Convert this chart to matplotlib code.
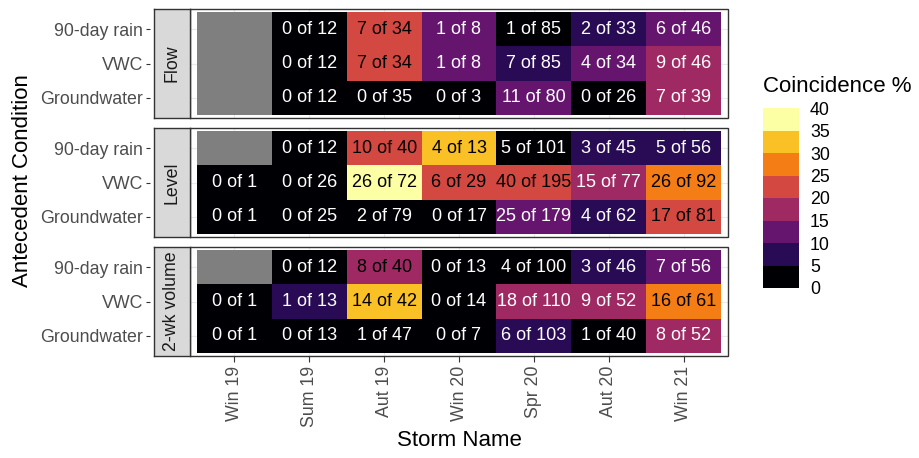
import matplotlib
matplotlib.use("Agg")
import matplotlib.pyplot as plt
import numpy as np
from matplotlib.colors import ListedColormap, BoundaryNorm
from matplotlib.patches import Rectangle
import matplotlib.colorbar as mcolorbar

plt.rcParams['font.family'] = ['Liberation Sans', 'DejaVu Sans']

storms = ["Win 19", "Sum 19", "Aut 19", "Win 20", "Spr 20", "Aut 20", "Win 21"]
conditions = ["90-day rain", "VWC", "Groundwater"]
facets = ["Flow", "Level", "2-wk volume"]

# hits / events per condition row; None = no data
flow_hits = [[None, 0, 7, 1, 1, 2, 6],
             [None, 0, 7, 1, 7, 4, 9],
             [None, 0, 0, 0, 11, 0, 7]]
flow_events = [[None, 12, 34, 8, 85, 33, 46],
               [None, 12, 34, 8, 85, 34, 46],
               [None, 12, 35, 3, 80, 26, 39]]

level_hits = [[None, 0, 10, 4, 5, 3, 5],
              [0, 0, 26, 6, 40, 15, 26],
              [0, 0, 2, 0, 25, 4, 17]]
level_events = [[None, 12, 40, 13, 101, 45, 56],
                [1, 26, 72, 29, 195, 77, 92],
                [1, 25, 79, 17, 179, 62, 81]]

vol_hits = [[None, 0, 8, 0, 4, 3, 7],
            [0, 1, 14, 0, 18, 9, 16],
            [0, 0, 1, 0, 6, 1, 8]]
vol_events = [[None, 12, 40, 13, 100, 46, 56],
              [1, 13, 42, 14, 110, 52, 61],
              [1, 13, 47, 7, 103, 40, 52]]

bin_edges = [0, 5, 10, 15, 20, 25, 30, 35, 40]
inferno8 = ["#000004", "#280B54", "#65156E", "#9F2A63",
            "#D44842", "#F57D15", "#FAC127", "#FCFFA4"]

facet_data = [(flow_hits, flow_events), (level_hits, level_events), (vol_hits, vol_events)]

W, H = 919, 458
fig = plt.figure(figsize=(W / 100, H / 100), dpi=100)

def fx(px):
    return px / W

def fy(px):
    return 1 - px / H

panel_left, panel_right = 190, 728
strip_left = 154
panel_tops = [9, 128, 247]
panel_h = 109
tick_col = "#4D4D4D"
line_col = "#333333"

cmap = ListedColormap(inferno8)

for k, (name, (hits, events)) in enumerate(zip(facets, facet_data)):
    top = panel_tops[k]
    ax = fig.add_axes([fx(panel_left), fy(top + panel_h), fx(panel_right - panel_left), panel_h / H])
    for s in ax.spines.values():
        s.set_visible(False)
    # y ticks sit outside the facet strip, like ggplot
    ax.spines['left'].set_position(('outward', 28.8))
    ax.set_xlim(-0.593, 6.593)
    ax.set_ylim(2.6, -0.6)
    ax.set_xticks(range(len(storms)))
    ax.set_yticks(range(len(conditions)))
    ax.set_yticklabels(conditions)
    ax.grid(True, color="#EBEBEB", linewidth=0.8, zorder=0)
    ax.set_axisbelow(True)
    for i in range(len(conditions)):
        for j in range(len(storms)):
            h, n = hits[i][j], events[i][j]
            if h is None:
                ax.add_patch(Rectangle((j - 0.5, i - 0.5), 1, 1, color="#7F7F7F", lw=0, zorder=1))
                continue
            pct = 100.0 * h / n
            b = max(int(np.ceil(pct / 5.0)) - 1, 0)
            ax.add_patch(Rectangle((j - 0.5, i - 0.5), 1, 1, color=inferno8[b], lw=0, zorder=1))
            ax.text(j, i, f"{h} of {n}", ha="center", va="center", fontsize=13,
                    color="black" if pct >= 20 else "white", zorder=2)
    ax.add_patch(Rectangle((0, 0), 1, 1, transform=ax.transAxes, fill=False,
                           edgecolor=line_col, lw=1.0, clip_on=False, zorder=5))
    ax.tick_params(axis="y", length=3, width=0.8, color=line_col, pad=2,
                   labelsize=12.8, labelcolor=tick_col)
    if k == 2:
        ax.set_xticklabels(storms, rotation=90)
        ax.tick_params(axis="x", length=4, width=0.8, color=line_col, pad=3,
                       labelsize=12.8, labelcolor=tick_col)
    else:
        ax.tick_params(axis="x", length=0, labelbottom=False)

    # facet strip on the left
    sax = fig.add_axes([fx(strip_left), fy(top + panel_h), fx(panel_left - strip_left), panel_h / H])
    sax.set_facecolor("#D9D9D9")
    sax.set_xticks([])
    sax.set_yticks([])
    for s in sax.spines.values():
        s.set_color(line_col)
        s.set_linewidth(1.0)
    sax.text(0.5, 0.5, name, rotation=90, ha="center", va="center", fontsize=12.8,
             color="#1A1A1A", transform=sax.transAxes)

fig.text(fx((panel_left + panel_right) / 2), fy(440), "Storm Name", ha="center", va="center", fontsize=16)
fig.text(fx(23), fy(181), "Antecedent Condition", rotation=90, ha="center", va="center", fontsize=16)

# binned legend
cax = fig.add_axes([fx(763), fy(288), fx(36), 180 / H])
norm = BoundaryNorm(bin_edges, cmap.N)
cb = mcolorbar.ColorbarBase(cax, cmap=cmap, norm=norm, boundaries=bin_edges,
                            ticks=bin_edges, orientation="vertical")
cb.outline.set_visible(False)
cax.tick_params(length=0, labelsize=12.8, pad=8, labelcolor="black")
fig.text(fx(763), fy(86), "Coincidence %", ha="left", va="center", fontsize=16)

fig.savefig("out.png", dpi=100)
